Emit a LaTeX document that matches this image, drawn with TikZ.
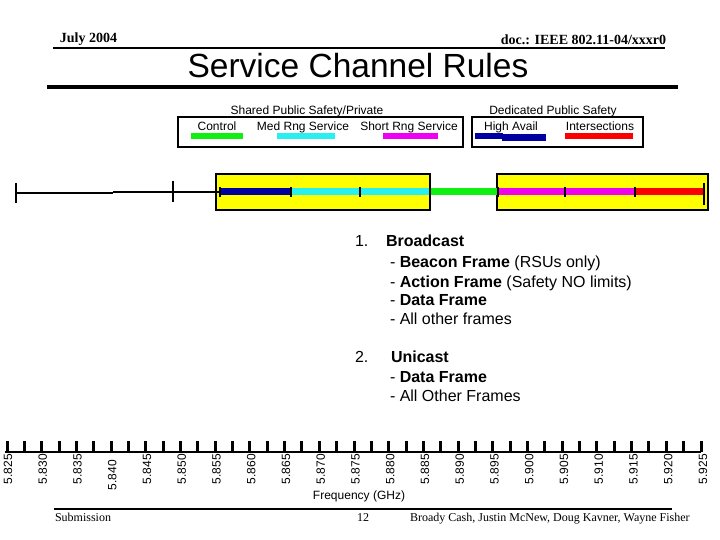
\documentclass[tikz,border=0pt]{standalone}
\usepackage{fontspec}
\setmainfont{Liberation Serif}
\setsansfont{Liberation Sans}
\usepackage{tikz}
\definecolor{bandyellow}{RGB}{255,255,0}
\definecolor{bandblue}{RGB}{0,0,160}
\definecolor{bandcyan}{RGB}{40,240,240}
\definecolor{bandgreen}{RGB}{16,240,16}
\definecolor{bandmagenta}{RGB}{240,0,240}
\definecolor{bandred}{RGB}{250,0,0}
\tikzset{
    every node/.style={inner sep=0pt, outer sep=0pt}
}
\tikzset{
    headtext/.style={font=\bfseries\fontsize{14}{16}\selectfont},
    foottext/.style={anchor=base west, font=\fontsize{12}{14}\selectfont},
    titletext/.style={font=\sffamily\fontsize{33.5}{38}\selectfont},
    legendtext/.style={anchor=base, font=\sffamily\fontsize{12}{14}\selectfont},
    bodytext/.style={anchor=base west, font=\sffamily\fontsize{16}{19}\selectfont},
    freqlabel/.style={anchor=east, rotate=90, font=\sffamily\fontsize{12}{14}\selectfont}
}
\tikzset{
    rulethin/.style={line width=2pt},
    rulethick/.style={line width=3.5pt},
    bandbox/.style={fill=bandyellow, draw=black, line width=2pt},
    legendbox/.style={draw=black, line width=2pt},
    band/.style={line width=7pt},
    bandtick/.style={line width=1.5pt},
    axisline/.style={line width=2.5pt},
    axistick/.style={line width=3pt}
}

\begin{document}
\begin{tikzpicture}[x=1pt, y=-1pt]
	\useasboundingbox (0,0) rectangle (720,540);
	% header and footer
	\node (date) [headtext] at (88.5, 39) {July 2004};
	\node (doc) [headtext] at (583.5, 40) {doc.: IEEE 802.11-04/xxxr0};
	\coordinate (hdrL) at (53, 48); \coordinate (hdrR) at (665, 48);
	\draw[rulethin] (hdrL) -- (hdrR);
	\node (title) [titletext] at (358, 66) {Service Channel Rules};
	\coordinate (ttlL) at (47, 87); \coordinate (ttlR) at (678, 87);
	\draw[rulethick] (ttlL) -- (ttlR);
	\coordinate (ftrL) at (54, 509); \coordinate (ftrR) at (672, 509);
	\draw[rulethin] (ftrL) -- (ftrR);
	\node (subm) [foottext] at (55, 521) {Submission};
	\node (page) [foottext, anchor=base] at (363, 521) {12};
	\node (authors) [foottext] at (410, 521) {Broady Cash, Justin McNew, Doug Kavner, Wayne Fisher};

	% legend
	\coordinate (lgA1) at (178, 117); \coordinate (lgA2) at (463, 147);
	\coordinate (lgB1) at (472, 117); \coordinate (lgB2) at (643, 147);
	\draw[legendbox] (lgA1) rectangle (lgA2);
	\draw[legendbox] (lgB1) rectangle (lgB2);
	\node (shared) [legendtext] at (307, 115) {Shared Public Safety/Private};
	\node (dedic) [legendtext] at (553, 115) {Dedicated Public Safety};
	\node (ctrl) [legendtext] at (217, 131) {Control};
	\node (medrng) [legendtext] at (303, 131) {Med Rng Service};
	\node (shortrng) [legendtext] at (409, 131) {Short Rng Service};
	\node (highav) [legendtext] at (511, 131) {High Avail};
	\node (inters) [legendtext] at (600, 131) {Intersections};
	\fill[bandgreen] (191, 133) rectangle (243, 139.5);
	\fill[bandcyan] (277, 133) rectangle (335, 139.5);
	\fill[bandmagenta] (383, 133) rectangle (438, 139.5);
	\fill[bandblue] (475, 133) rectangle (503, 139.5);
	\fill[bandblue] (502, 134.5) rectangle (546, 141);
	\fill[bandred] (565, 133) rectangle (633, 139.5);

	% band plan
	\coordinate (bx1a) at (216, 174); \coordinate (bx1b) at (430, 210);
	\coordinate (bx2a) at (497, 174); \coordinate (bx2b) at (708, 210);
	\draw[bandbox] (bx1a) rectangle (bx1b);
	\draw[bandbox] (bx2a) rectangle (bx2b);
	\coordinate (lo0) at (16, 193); \coordinate (lo1) at (113, 193);
	\coordinate (lo2) at (113, 192); \coordinate (lo3) at (173, 192);
	\coordinate (b0) at (220, 192); \coordinate (b1) at (291, 192);
	\coordinate (b2) at (430, 192); \coordinate (b3) at (498, 192);
	\coordinate (b4) at (635, 192); \coordinate (b5) at (704, 192);
	\draw[rulethin] (lo0) -- (lo1);
	\draw[rulethin] (lo2) -- (b0);
	\draw[rulethin] (lo0) ++(0,-10) -- ++(0,20);
	\draw[rulethin] (lo3) ++(0,-11) -- ++(0,21);
	\draw[band, bandblue] (b0) -- (b1);
	\draw[band, bandcyan] (b1) -- (b2);
	\draw[band, bandgreen] (b2) -- (b3);
	\draw[band, bandmagenta] (b3) -- (b4);
	\draw[band, bandred] (b4) -- (b5);
	\foreach \x [count=\i] in {220, 291, 360, 430, 498, 565, 635} {
		\coordinate (bt\i) at (\x, 192);
		\draw[bandtick] (bt\i) ++(0,-5) -- ++(0,10);
	}
	\draw[rulethin] (b5) ++(0,-9) -- ++(0,22);

	% rules text
	\node (n1) [bodytext] at (355, 247) {1.};
	\node (bcast) [bodytext] at (386, 247) {\bfseries Broadcast};
	\node (beacon) [bodytext] at (390, 267) {- \textbf{Beacon Frame} (RSUs only)};
	\node (action) [bodytext] at (390, 287) {- \textbf{Action Frame} (Safety NO limits)};
	\node (data1) [bodytext] at (390, 305) {- \textbf{Data Frame}};
	\node (other1) [bodytext] at (390, 324) {- All other frames};
	\node (n2) [bodytext] at (355, 362) {2.};
	\node (ucast) [bodytext] at (391, 362) {\bfseries Unicast};
	\node (data2) [bodytext] at (390, 382) {- \textbf{Data Frame}};
	\node (other2) [bodytext] at (390, 401) {- All Other Frames};

	% frequency axis
	\coordinate (axL) at (5, 452); \coordinate (axR) at (701, 452);
	\draw[axisline] (axL) -- (axR);
	\foreach \k in {0,...,40} {
		\coordinate (ax\k) at (7+17.35*\k, 452);
		\draw[axistick] (ax\k) -- ++(0,-11);
	}
	\foreach \f/\fy [count=\i from 0] in {5.825/454,5.830/454,5.835/454,
		5.840/460,5.845/454,5.850/454,5.855/454,5.860/454,5.865/454,
		5.870/454,5.875/454,5.880/454,5.885/454,5.890/454,5.895/454,
		5.900/454,5.905/454,5.910/454,5.915/454,5.920/454,5.925/454} {
		\node (fq\i) [freqlabel] at (8+34.75*\i, \fy) {\f};
	}
	\node (freq) [legendtext, anchor=center] at (359, 496) {Frequency (GHz)};
\end{tikzpicture}
\end{document}
